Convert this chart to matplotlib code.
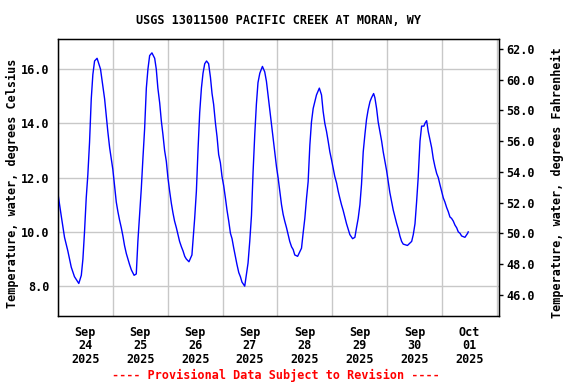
import matplotlib
matplotlib.use('Agg')
import matplotlib.pyplot as plt
import numpy as np

# hours since Sep 24 2025 00:00 and water temperature (deg C)
hours = [0.0, 1.4, 2.85, 4.3, 5.8, 7.2, 9.1, 10.2, 10.9, 11.6, 12.35, 13.05, 13.8, 14.55,
         15.25, 16.0, 17.1, 18.6, 19.6, 20.4, 21.1, 21.8, 22.6, 23.3, 24.0, 24.75, 25.5,
         26.2, 26.9, 27.7, 28.4, 29.1, 29.9, 30.6, 31.3, 32.1, 33.3, 34.25, 34.95, 35.7,
         36.45, 37.15, 37.9, 38.65, 39.35, 40.1, 41.1, 42.3, 43.0, 43.7, 44.5, 45.2, 45.9,
         46.65, 47.4, 48.1, 48.85, 49.6, 50.3, 51.0, 51.8, 52.5, 53.2, 54.0, 54.7, 55.45,
         56.15, 57.3, 58.6, 59.05, 59.8, 60.55, 61.25, 62.0, 62.75, 63.45, 64.2, 65.0, 65.9,
         66.7, 67.4, 68.1, 68.9, 69.6, 70.3, 71.05, 71.75, 72.5, 73.25, 73.95, 74.7, 75.45,
         76.15, 76.9, 77.6, 78.3, 79.1, 79.8, 80.5, 81.7, 83.15, 83.9, 84.65, 85.35, 86.1,
         86.8, 87.5, 88.3, 89.45, 90.45, 91.2, 91.9, 92.65, 93.4, 94.1, 94.85, 95.6, 96.3,
         97.05, 97.8, 98.5, 99.2, 100.0, 100.7, 101.4, 102.2, 102.9, 103.6, 104.85, 106.55,
         107.25, 108.0, 108.75, 109.45, 110.2, 110.9, 111.65, 112.4, 113.1, 114.35, 115.3,
         116.0, 116.75, 117.5, 118.2, 118.95, 119.7, 120.4, 121.1, 121.9, 122.6, 123.3,
         124.05, 124.75, 125.5, 126.25, 126.95, 127.7, 128.9, 129.9, 130.6, 131.35, 132.1,
         132.8, 133.55, 134.3, 135.0, 135.7, 136.5, 137.2, 138.1, 138.65, 139.4, 140.1,
         140.85, 141.6, 142.3, 143.05, 143.8, 144.5, 145.2, 146.0, 146.7, 147.45, 148.2,
         148.9, 149.6, 150.35, 151.05, 152.9, 154.75, 155.45, 156.2, 156.9, 157.6, 158.4,
         159.1, 160.1, 160.55, 161.3, 162.0, 162.75, 163.5, 164.2, 164.95, 165.7, 166.4,
         167.1, 167.85, 168.6, 169.3, 170.05, 170.75, 171.5, 172.2, 172.95, 173.7, 174.45,
         175.15, 175.9, 176.6, 178.05, 179.25, 179.5]
temp_c = [11.4, 10.6, 9.8, 9.3, 8.7, 8.35, 8.1, 8.4, 9.0, 10.0, 11.25, 12.1, 13.3, 14.9,
          15.8, 16.3, 16.4, 16.0, 15.4, 14.9, 14.3, 13.7, 13.1, 12.7, 12.3, 11.7, 11.1,
          10.75, 10.45, 10.15, 9.85, 9.5, 9.2, 9.0, 8.8, 8.6, 8.4, 8.45, 9.65, 10.6,
          11.6, 12.7, 13.8, 15.3, 16.0, 16.5, 16.6, 16.4, 16.0, 15.3, 14.75, 14.1, 13.6,
          13.0, 12.6, 12.0, 11.5, 11.05, 10.7, 10.4, 10.15, 9.9, 9.65, 9.45, 9.3, 9.1,
          9.0, 8.9, 9.15, 9.65, 10.5, 11.5, 13.0, 14.4, 15.3, 15.85, 16.2, 16.3, 16.2,
          15.7, 15.1, 14.7, 14.0, 13.5, 12.85, 12.55, 12.05, 11.7, 11.25, 10.8, 10.4, 9.95,
          9.75, 9.4, 9.1, 8.8, 8.5, 8.35, 8.15, 8.0, 8.85, 9.65, 10.6, 12.2, 13.6,
          14.7, 15.5, 15.85, 16.1, 15.9, 15.55, 15.05, 14.5, 14.0, 13.45, 12.95, 12.4, 12.0,
          11.5, 11.0, 10.65, 10.4, 10.15, 9.9, 9.65, 9.45, 9.35, 9.15, 9.1, 9.4,
          9.95, 10.5, 11.25, 11.85, 13.2, 14.05, 14.55, 14.8, 15.05, 15.3, 15.05,
          14.45, 14.0, 13.7, 13.35, 12.95, 12.65, 12.35, 12.05, 11.8, 11.5, 11.25,
          11.0, 10.8, 10.55, 10.3, 10.1, 9.9, 9.75, 9.8, 10.15, 10.5, 11.0,
          11.75, 12.95, 13.6, 14.15, 14.5, 14.8, 14.95, 15.1, 14.95, 14.55, 14.05,
          13.7, 13.35, 12.95, 12.6, 12.25, 11.85, 11.45, 11.1, 10.8, 10.55, 10.3,
          10.1, 9.85, 9.65, 9.55, 9.5, 9.65, 9.9, 10.3, 11.1, 12.0, 13.35,
          13.9, 13.9, 14.0, 14.1, 13.7, 13.4, 13.1, 12.7, 12.4, 12.15, 12.0,
          11.75, 11.5, 11.25, 11.1, 10.9, 10.75, 10.55, 10.5, 10.4, 10.25, 10.15,
          10.0, 9.95, 9.85, 9.8, 9.95, 10.0]

day_labels = ['Sep\n24\n2025', 'Sep\n25\n2025', 'Sep\n26\n2025', 'Sep\n27\n2025',
              'Sep\n28\n2025', 'Sep\n29\n2025', 'Sep\n30\n2025', 'Oct\n01\n2025']
c_ticks = [8.0, 10.0, 12.0, 14.0, 16.0]
f_ticks = [46.0, 48.0, 50.0, 52.0, 54.0, 56.0, 58.0, 60.0, 62.0]

font = {'family': 'DejaVu Sans Mono', 'weight': 'bold', 'size': 8.5}
grid_col = '#c8c8c8'

fig = plt.figure(figsize=(5.76, 3.84), dpi=100)
ax = fig.add_axes([58 / 576, 1 - 316 / 384, 441 / 576, 276.7 / 384])

days = np.array(hours) / 24.0
ax.plot(days, temp_c, color='#0000ff', linewidth=1.0, zorder=3)

ax.set_xlim(0, 8.04)
ax.set_ylim(6.9, 17.1)
ax.set_xticks(np.arange(0, 9))
ax.set_xticklabels([])
ax.set_xticks(np.arange(len(day_labels)) + 0.5, minor=True)
ax.set_xticklabels(day_labels, minor=True, fontdict=font, linespacing=1.05)
ax.tick_params(axis='x', which='both', length=0, pad=7)
ax.set_yticks(c_ticks)
ax.set_yticklabels([f'{v:.1f}' for v in c_ticks], fontdict=font)
ax.tick_params(axis='y', length=0, pad=6)
ax.grid(True, which='major', color=grid_col, linewidth=1.0)
ax.set_axisbelow(True)
for s in ax.spines.values():
    s.set_linewidth(1.0)
    s.set_color('black')

ax2 = ax.twinx()
ax2.set_ylim(44.63, 62.63)
ax2.set_yticks(f_ticks)
ax2.set_yticklabels([f'{v:.1f}' for v in f_ticks], fontdict=font)
ax2.tick_params(axis='y', length=3, width=1, pad=2, direction='out')

fig.text(278.5 / 576, 1 - 21 / 384, 'USGS 13011500 PACIFIC CREEK AT MORAN, WY',
         ha='center', va='center', **font)
fig.text(12 / 576, 1 - 183 / 384, 'Temperature, water, degrees Celsius',
         rotation=90, ha='center', va='center', **font)
fig.text(557 / 576, 1 - 183 / 384, 'Temperature, water, degrees Fahrenheit',
         rotation=90, ha='center', va='center', **font)
fig.text(276 / 576, 1 - 375 / 384, '---- Provisional Data Subject to Revision ----',
         ha='center', va='center', color='#ff0000', **font)

fig.savefig('out.png', dpi=100)
